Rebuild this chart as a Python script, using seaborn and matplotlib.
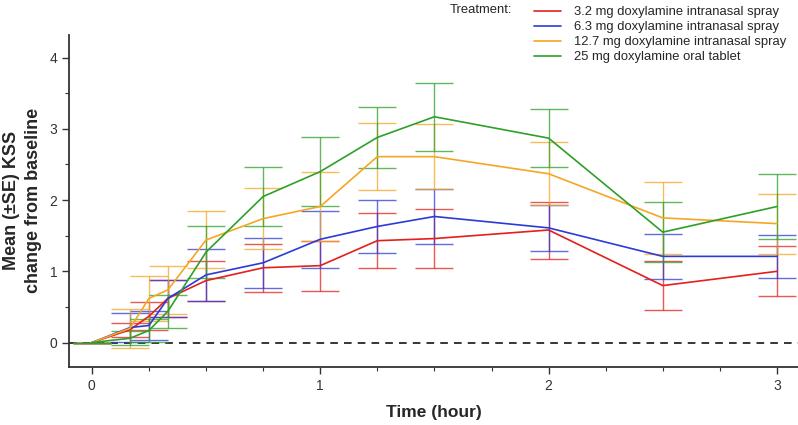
import matplotlib
matplotlib.use("Agg")
import matplotlib.pyplot as plt
from matplotlib.ticker import MultipleLocator
import numpy as np
import pandas as pd
import seaborn as sns

# time points (hour)
times = [0, 0.167, 0.25, 0.333, 0.5, 0.75, 1, 1.25, 1.5, 2, 2.5, 3]

treatments = ["3.2 mg doxylamine intranasal spray",
              "6.3 mg doxylamine intranasal spray",
              "12.7 mg doxylamine intranasal spray",
              "25 mg doxylamine oral tablet"]

mean_3_2 = [0, 0.18, 0.37, 0.62, 0.87, 1.05, 1.08, 1.43, 1.46, 1.58, 0.80, 1.00]
se_3_2 = [0, 0.10, 0.20, 0.26, 0.28, 0.34, 0.35, 0.39, 0.41, 0.40, 0.34, 0.35]

mean_6_3 = [0, 0.21, 0.24, 0.62, 0.95, 1.12, 1.45, 1.63, 1.77, 1.61, 1.21, 1.21]
se_6_3 = [0, 0.20, 0.20, 0.26, 0.36, 0.35, 0.40, 0.37, 0.38, 0.32, 0.32, 0.30]

mean_12_7 = [0, 0.20, 0.62, 0.74, 1.44, 1.74, 1.91, 2.61, 2.61, 2.37, 1.75, 1.67]
se_12_7 = [0, 0.27, 0.32, 0.34, 0.40, 0.43, 0.48, 0.47, 0.46, 0.44, 0.50, 0.42]

mean_25 = [0, 0.06, 0.17, 0.44, 1.27, 2.05, 2.40, 2.88, 3.17, 2.87, 1.55, 1.91]
se_25 = [0, 0.10, 0.16, 0.23, 0.36, 0.41, 0.48, 0.43, 0.48, 0.41, 0.42, 0.45]

colors = ["#e3201b", "#2b3bd6", "#f5a623", "#2ea02a"]

means = [mean_3_2, mean_6_3, mean_12_7, mean_25]
ses = [se_3_2, se_6_3, se_12_7, se_25]

df = pd.concat([pd.DataFrame({"time": times, "mean": m, "se": s, "treatment": t})
                for m, s, t in zip(means, ses, treatments)])

sns.set_theme(style="ticks")
plt.rcParams['font.family'] = ['Liberation Sans', 'DejaVu Sans']

fig = plt.figure(figsize=(7.98, 4.25), dpi=100)
ax = fig.add_axes([0.0865, 0.137, 0.9135, 0.781])

for t, c in zip(treatments, colors):
    sub = df[df.treatment == t]
    ax.errorbar(sub["time"], sub["mean"], yerr=sub["se"], fmt="none", ecolor=c,
                elinewidth=1.0, capsize=14, capthick=1.0, alpha=0.75, zorder=2)

sns.lineplot(data=df, x="time", y="mean", hue="treatment", palette=colors,
             hue_order=treatments, linewidth=1.2, ax=ax, zorder=3)

ax.axhline(0, color="black", ls=(0, (5, 4)), lw=1.1, zorder=1)

ax.set_xlim(-0.10, 3.092)
ax.set_ylim(-0.34, 4.32)
ax.xaxis.set_major_locator(MultipleLocator(1))
ax.xaxis.set_minor_locator(MultipleLocator(0.25))
ax.yaxis.set_major_locator(MultipleLocator(1))
ax.yaxis.set_minor_locator(MultipleLocator(0.5))
ax.tick_params(which="major", length=5, width=1, labelsize=10, colors="#333333")
ax.tick_params(which="minor", length=3, width=0.8, colors="#333333")
for sp in ["left", "bottom"]:
    ax.spines[sp].set_color("#333333")
    ax.spines[sp].set_linewidth(1.3)
sns.despine(ax=ax)

ax.set_xlabel("Time (hour)", fontsize=12.5, fontweight="bold", labelpad=9)
ax.set_ylabel("Mean (±SE) KSS\nchange from baseline", fontsize=13, fontweight="bold",
              labelpad=5, linespacing=1.4)

leg = ax.legend(loc="upper left", bbox_to_anchor=(0.630, 1.102), frameon=False,
                fontsize=9.4, handlelength=2.07, handletextpad=1.0, labelspacing=0.22,
                borderaxespad=0)
for line in leg.get_lines():
    line.set_linewidth(1.2)
fig.text(0.564, 0.976, "Treatment:", fontsize=9.4, va="center", ha="left")

fig.savefig("out.png", dpi=100)
